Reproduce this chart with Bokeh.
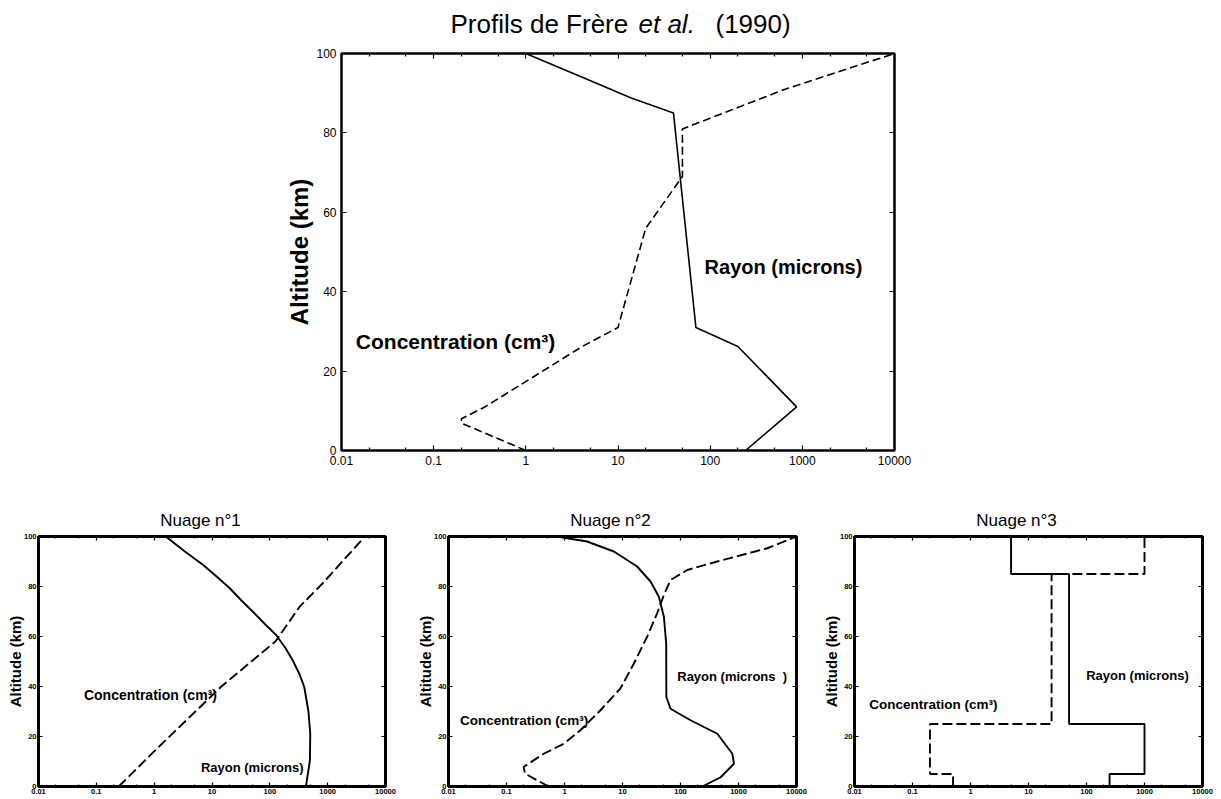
from bokeh.plotting import figure
from bokeh.models import (Label, FixedTicker, LogAxis, LinearAxis,
                          CustomJSTickFormatter, Spacer, Range1d)
from bokeh.layouts import column, row
from bokeh.embed import file_html
from bokeh.resources import INLINE

FONT = "Liberation Sans"

# ---------------- data ----------------
x_ticks = [0.01, 0.1, 1, 10, 100, 1000, 10000]
x_minor = [0.02, 0.05, 0.2, 0.5, 2, 5, 20, 50, 200, 500, 2000, 5000]
y_ticks = [0, 20, 40, 60, 80, 100]

# Frère et al. (1990)
frere_rayon_alt = [100, 94, 88.8, 85, 31, 26.2, 11, 0]
frere_rayon = [1, 4.1, 13.9, 40, 70, 200, 867, 242]
frere_conc_alt = [0, 6.9, 8, 10.9, 26.2, 31, 56, 69, 81, 91, 100]
frere_conc = [1, 0.2, 0.2, 0.355, 4.1, 10, 20, 50, 50, 650, 10000]

# Nuage n°1
n1_rayon_alt = [100, 94, 88.6, 84, 79.3, 74.5, 69.9, 65, 60.6, 55.5, 50.5, 45, 39.8, 30, 21.1, 10.4, 0]
n1_rayon = [1.59, 3.4, 7.05, 12, 20.3, 32, 51, 82, 128.5, 185, 248, 325, 394, 465, 500, 493, 421]
n1_conc_alt = [0, 15, 40, 58, 72, 81, 100]
n1_conc = [0.244, 1.1, 14.5, 125, 330, 800, 4400]

# Nuage n°2
n2_rayon_alt = [100, 98, 94, 88, 82, 75.9, 67.9, 57.2, 35.8, 31.1, 26.5, 21.1, 13.1, 9.1, 3.7, 0]
n2_rayon = [0.74, 2.45, 7.1, 17.9, 30.4, 42.4, 51.7, 56.7, 57, 67.3, 149, 431, 783, 836, 492, 237]
n2_conc_alt = [0, 5.1, 7.8, 13.1, 17.1, 22.5, 30.5, 39.2, 49.2, 59.9, 69.3, 76.6, 82.6, 86.6, 90, 95.3, 100]
n2_conc = [0.533, 0.21, 0.197, 0.437, 0.97, 1.88, 4.17, 9.2, 15.7, 26.6, 39.6, 51.7, 67.3, 130.7, 431, 3148, 10000]

# Nuage n°3 (layered)
n3_alt_bounds = [0, 5, 25, 85, 100]
n3_rayon = [250, 1000, 50, 5]
n3_conc = [0.5, 0.2, 25, 1000]


def steps(values, bounds):
    xs, ys = [], []
    for i, v in enumerate(values):
        xs += [v, v]
        ys += [bounds[i], bounds[i + 1]]
    return xs, ys


def xpos(px, frame_w):
    # screen offset from frame left -> log-axis value (annotation placement)
    return 10 ** (-2 + px * 6.0 / frame_w)


def panel(fw, fh, lb, rb, tb, bb, tick_fs, tick_bold, lab_fs, outline_w,
          tmaj, tmin, lab_standoff, tick_standoff):
    p = figure(x_axis_type="log", x_range=Range1d(0.01, 10000), y_range=Range1d(0, 100),
               frame_width=fw, frame_height=fh,
               min_border_left=lb, min_border_right=rb, min_border_top=tb, min_border_bottom=bb,
               toolbar_location=None, output_backend="svg", title=None,
               background_fill_color="white", border_fill_color="white",
               outline_line_color="black", outline_line_width=outline_w)
    p.xgrid.visible = False
    p.ygrid.visible = False
    fmt = CustomJSTickFormatter(code="return tick.toString();")
    style = "bold" if tick_bold else "normal"

    xa = p.xaxis[0]
    xa.ticker = FixedTicker(ticks=x_ticks, minor_ticks=x_minor)
    xa.formatter = fmt
    ya = p.yaxis[0]
    ya.ticker = FixedTicker(ticks=y_ticks, minor_ticks=[])
    for a in (xa, ya):
        a.axis_line_color = None
        a.major_tick_in = tmaj
        a.major_tick_out = 0
        a.minor_tick_in = tmin
        a.minor_tick_out = 0
        a.major_tick_line_color = "black"
        a.minor_tick_line_color = "black"
        a.major_tick_line_width = 1.2
        a.minor_tick_line_width = 1.2
        a.major_label_text_font = FONT
        a.major_label_text_font_size = tick_fs
        a.major_label_text_font_style = style
        a.major_label_text_color = "black"
        a.major_label_standoff = tick_standoff
    ya.axis_label = "Altitude (km)"
    ya.axis_label_text_font = FONT
    ya.axis_label_text_font_style = "bold"
    ya.axis_label_text_font_size = lab_fs
    ya.axis_label_text_color = "black"
    ya.axis_label_standoff = lab_standoff

    blank = CustomJSTickFormatter(code="return '';")
    top = LogAxis(ticker=FixedTicker(ticks=x_ticks, minor_ticks=x_minor), formatter=blank,
                  major_label_text_font_size="0px", major_label_standoff=0,
                  axis_line_color=None, major_tick_in=tmaj, major_tick_out=0,
                  minor_tick_in=tmin, minor_tick_out=0,
                  major_tick_line_width=1.2, minor_tick_line_width=1.2)
    right = LinearAxis(ticker=FixedTicker(ticks=y_ticks, minor_ticks=[]), formatter=blank,
                       major_label_text_font_size="0px", major_label_standoff=0,
                       axis_line_color=None, major_tick_in=tmaj, major_tick_out=0,
                       minor_tick_line_color=None, major_tick_line_width=1.2)
    p.add_layout(top, "above")
    p.add_layout(right, "right")
    return p


def title_fig(fw, fh, lb, rb):
    t = figure(x_axis_type="log", x_range=Range1d(0.01, 10000), y_range=Range1d(0, fh),
               frame_width=fw, frame_height=fh,
               min_border_left=lb, min_border_right=rb, min_border_top=0, min_border_bottom=0,
               toolbar_location=None, output_backend="svg", title=None,
               x_axis_location=None, y_axis_location=None,
               background_fill_color="white", border_fill_color="white",
               outline_line_color=None)
    t.xgrid.visible = False
    t.ygrid.visible = False
    return t


def lbl(p, x, y, text, size, bold=True, align="left", baseline="middle", italic=False):
    st = "bold" if bold else "normal"
    if italic:
        st = "italic"
    p.add_layout(Label(x=x, y=y, text=text, text_font=FONT, text_font_size=size,
                       text_font_style=st, text_align=align, text_baseline=baseline,
                       text_color="black"))


# ---------------- main panel ----------------
MW, MH = 553, 397
ML, MR = 70, 30
LEFT_PAD = 271
TOP_H = 45
MB = 22

tmain = title_fig(MW, TOP_H, ML, MR)
lbl(tmain, xpos(109, MW), 22, "Profils de Frère", "26px", bold=False)
lbl(tmain, xpos(297, MW), 22, "et al.", "26px", bold=False, italic=True)
lbl(tmain, xpos(374, MW), 22, "(1990)", "26px", bold=False)

main = panel(MW, MH, ML, MR, 8, MB, "12px", False, "24px", 2.5, 5, 3, 0, 5)
main.line(frere_rayon, frere_rayon_alt, line_color="black", line_width=1.6)
main.line(frere_conc, frere_conc_alt, line_color="black", line_width=1.6, line_dash="8 4")
lbl(main, 87, 46.3, "Rayon (microns)", "20px")
lbl(main, 0.0143, 27.5, "Concentration (cm³)", "21px")

# ---------------- small panels ----------------
SH = 250
TH = 536 - 5 - (TOP_H + 8 + MH + MB)
LW = 1.9


def small(fw, lb, rb, title):
    t = title_fig(fw, TH, lb, rb)
    lbl(t, xpos(162, fw), 11.5, title, "17px", bold=False, align="center")
    p = panel(fw, SH, lb, rb, 5, 12, "7.5px", True, "15px", 3, 4, 2, -3, 2)
    return t, p


t1, p1 = small(347, 38, 20, "Nuage n°1")
p1.line(n1_rayon, n1_rayon_alt, line_color="black", line_width=LW)
p1.line(n1_conc, n1_conc_alt, line_color="black", line_width=LW, line_dash="10 4")
lbl(p1, 0.061, 36.5, "Concentration (cm³)", "14px")
lbl(p1, 6.43, 7.75, "Rayon (microns)", "13px")

t2, p2 = small(348, 43, 20, "Nuage n°2")
p2.line(n2_rayon, n2_rayon_alt, line_color="black", line_width=LW)
p2.line(n2_conc, n2_conc_alt, line_color="black", line_width=LW, line_dash="10 4")
lbl(p2, 0.0158, 26.5, "Concentration (cm³)", "13.5px")
lbl(p2, 87.9, 43.9, "Rayon (microns\u00a0\u00a0)", "13px")

t3, p3 = small(348, 38, 15, "Nuage n°3")
rx, ry = steps(n3_rayon, n3_alt_bounds)
cx, cy = steps(n3_conc, n3_alt_bounds)
p3.line(rx, ry, line_color="black", line_width=LW)
p3.line(cx, cy, line_color="black", line_width=LW, line_dash="10 4")
lbl(p3, 0.0179, 33, "Concentration (cm³)", "13.5px")
lbl(p3, 98.9, 44.6, "Rayon (microns)", "13px")

layout = column(
    row(Spacer(width=LEFT_PAD, height=TOP_H), tmain),
    row(Spacer(width=LEFT_PAD, height=8 + MH + MB), main),
    row(t1, t2, t3),
    row(p1, p2, p3),
)

open("out.html", "w").write(file_html(layout, INLINE))
